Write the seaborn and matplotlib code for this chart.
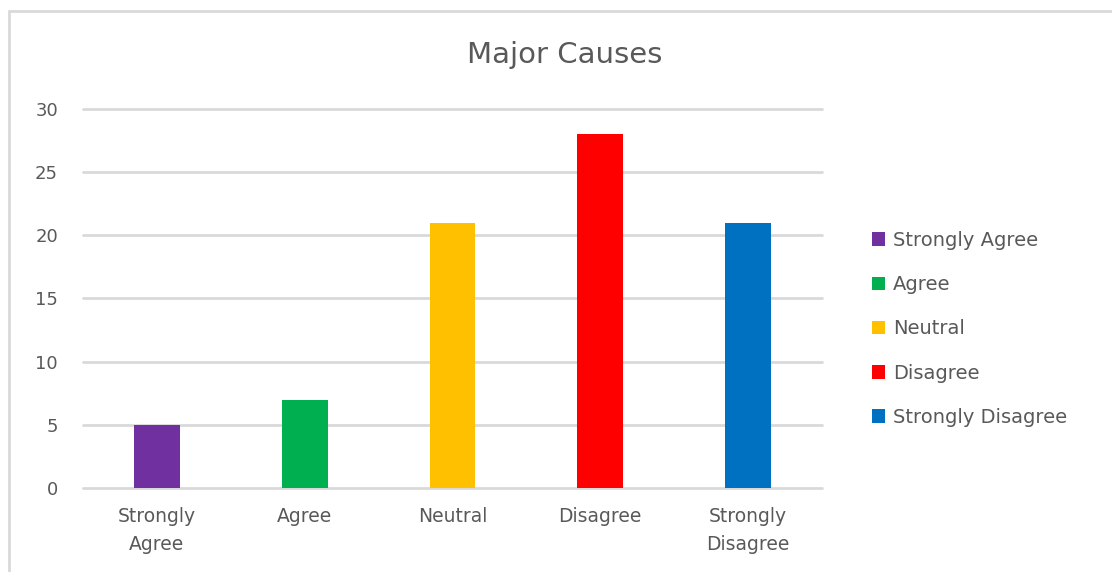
import matplotlib
matplotlib.use("Agg")
import matplotlib.pyplot as plt
from matplotlib.patches import Rectangle, Patch
import seaborn as sns
import pandas as pd

categories = ["Strongly Agree", "Agree", "Neutral", "Disagree", "Strongly Disagree"]
tick_labels = ["Strongly\nAgree", "Agree", "Neutral", "Disagree", "Strongly\nDisagree"]
counts = [5, 7, 21, 28, 21]
colors = ["#7030A0", "#00B050", "#FFC000", "#FF0000", "#0070C0"]
y_ticks = [0, 5, 10, 15, 20, 25, 30]

sns.set_style("white")
plt.rcParams["font.family"] = ["DejaVu Sans"]
text_color = "#595959"
grid_color = "#D9D9D9"

df = pd.DataFrame({"category": categories, "count": counts})

fig = plt.figure(figsize=(11.12, 5.72), dpi=100)
ax = fig.add_axes([0.0746, 0.1469, 0.6645, 0.6625])

sns.barplot(data=df, x="category", y="count", hue="category",
            palette=dict(zip(categories, colors)), order=categories,
            width=0.31, saturation=1, legend=False, linewidth=0,
            ax=ax, zorder=3)

ax.set_xlim(-0.5, 4.5)
ax.set_ylim(0, 30)
ax.set_yticks(y_ticks)
ax.set_xticks(range(len(categories)))
ax.set_xticklabels(tick_labels, fontsize=13.5, color=text_color, linespacing=1.55)
ax.tick_params(axis="y", labelsize=13, labelcolor=text_color, length=0, pad=18)
ax.tick_params(axis="x", length=0, pad=14)
ax.set_xlabel("")
ax.set_ylabel("")
ax.grid(axis="y", color=grid_color, linewidth=2, zorder=0)
for line in ax.get_ygridlines():
    line.set_clip_on(False)
for s in ax.spines.values():
    s.set_visible(False)

fig.text(0.508, 0.904, "Major Causes", ha="center", va="center",
         fontsize=21, color=text_color)

handles = [Patch(facecolor=c, edgecolor="none") for c in colors]
fig.legend(handles, categories, loc="center left", bbox_to_anchor=(0.768, 0.425),
           frameon=False, fontsize=14, labelcolor=text_color,
           handlelength=0.7, handleheight=0.7, handletextpad=0.4,
           labelspacing=1.3)

# chart-area border
fig.patches.append(Rectangle((9 / 1112, -0.1), 1.2, 1 - 11 / 572 + 0.1,
                             transform=fig.transFigure, fill=False,
                             edgecolor=grid_color, linewidth=2))

fig.savefig("out.png", dpi=100)
